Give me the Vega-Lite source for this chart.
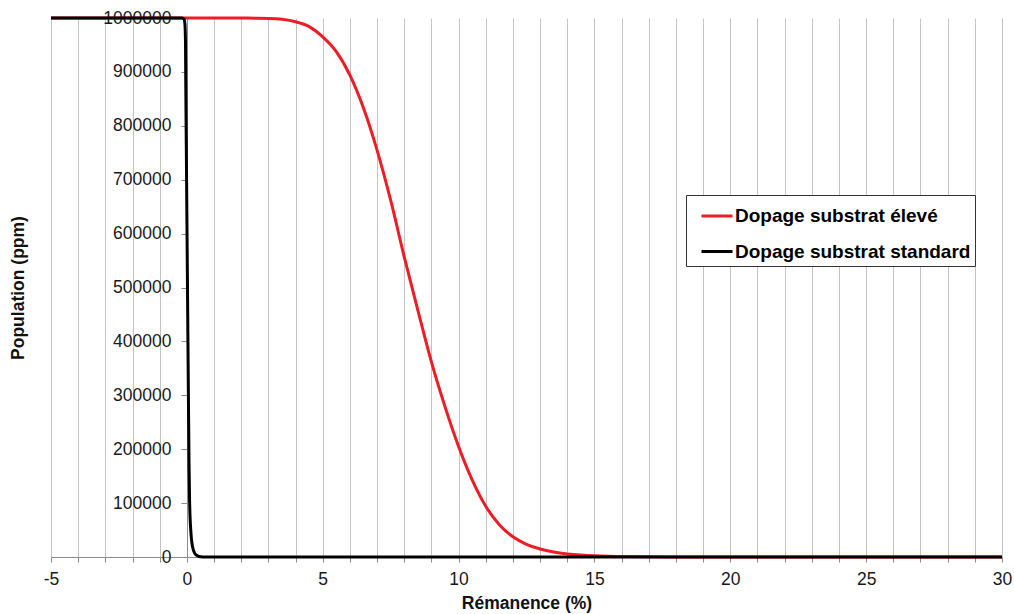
{
  "$schema": "https://vega.github.io/schema/vega-lite/v6.json",
  "autosize": {"type": "none"},
  "padding": {"left": 51, "top": 18, "right": 12, "bottom": 57},
  "width": 951,
  "height": 539,
  "background": "white",
  "config": {
    "view": {"stroke": null},
    "font": "Liberation Sans",
    "axis": {"labelFont": "Liberation Sans", "titleFont": "Liberation Sans", "labelColor": "#1a1a1a", "titleColor": "#111111"}
  },
  "data": {
    "values": [
      {"x": -5, "y": 1000000, "serie": "Dopage substrat élevé"},
      {"x": 0, "y": 1000000, "serie": "Dopage substrat élevé"},
      {"x": 1, "y": 1000000, "serie": "Dopage substrat élevé"},
      {"x": 2, "y": 999900, "serie": "Dopage substrat élevé"},
      {"x": 2.5, "y": 999700, "serie": "Dopage substrat élevé"},
      {"x": 3, "y": 999300, "serie": "Dopage substrat élevé"},
      {"x": 3.5, "y": 997500, "serie": "Dopage substrat élevé"},
      {"x": 4, "y": 993000, "serie": "Dopage substrat élevé"},
      {"x": 4.5, "y": 984000, "serie": "Dopage substrat élevé"},
      {"x": 5, "y": 965000, "serie": "Dopage substrat élevé"},
      {"x": 5.5, "y": 937500, "serie": "Dopage substrat élevé"},
      {"x": 6, "y": 894000, "serie": "Dopage substrat élevé"},
      {"x": 6.5, "y": 833000, "serie": "Dopage substrat élevé"},
      {"x": 7, "y": 755000, "serie": "Dopage substrat élevé"},
      {"x": 7.5, "y": 662000, "serie": "Dopage substrat élevé"},
      {"x": 8, "y": 557000, "serie": "Dopage substrat élevé"},
      {"x": 8.5, "y": 458000, "serie": "Dopage substrat élevé"},
      {"x": 9, "y": 362000, "serie": "Dopage substrat élevé"},
      {"x": 9.5, "y": 279000, "serie": "Dopage substrat élevé"},
      {"x": 10, "y": 205000, "serie": "Dopage substrat élevé"},
      {"x": 10.5, "y": 143000, "serie": "Dopage substrat élevé"},
      {"x": 11, "y": 94000, "serie": "Dopage substrat élevé"},
      {"x": 11.5, "y": 60000, "serie": "Dopage substrat élevé"},
      {"x": 12, "y": 37500, "serie": "Dopage substrat élevé"},
      {"x": 12.5, "y": 23500, "serie": "Dopage substrat élevé"},
      {"x": 13, "y": 14800, "serie": "Dopage substrat élevé"},
      {"x": 13.5, "y": 9200, "serie": "Dopage substrat élevé"},
      {"x": 14, "y": 5700, "serie": "Dopage substrat élevé"},
      {"x": 14.5, "y": 3500, "serie": "Dopage substrat élevé"},
      {"x": 15, "y": 2100, "serie": "Dopage substrat élevé"},
      {"x": 15.5, "y": 1250, "serie": "Dopage substrat élevé"},
      {"x": 16, "y": 750, "serie": "Dopage substrat élevé"},
      {"x": 17, "y": 250, "serie": "Dopage substrat élevé"},
      {"x": 18, "y": 80, "serie": "Dopage substrat élevé"},
      {"x": 19, "y": 0, "serie": "Dopage substrat élevé"},
      {"x": 30, "y": 0, "serie": "Dopage substrat élevé"},
      {"x": -5, "y": 1000000, "serie": "Dopage substrat standard"},
      {"x": -0.2, "y": 1000000, "serie": "Dopage substrat standard"},
      {"x": -0.1, "y": 998000, "serie": "Dopage substrat standard"},
      {"x": -0.07, "y": 988000, "serie": "Dopage substrat standard"},
      {"x": -0.05, "y": 955000, "serie": "Dopage substrat standard"},
      {"x": -0.04, "y": 880000, "serie": "Dopage substrat standard"},
      {"x": -0.02, "y": 760000, "serie": "Dopage substrat standard"},
      {"x": 0, "y": 640000, "serie": "Dopage substrat standard"},
      {"x": 0.02, "y": 520000, "serie": "Dopage substrat standard"},
      {"x": 0.04, "y": 400000, "serie": "Dopage substrat standard"},
      {"x": 0.06, "y": 280000, "serie": "Dopage substrat standard"},
      {"x": 0.08, "y": 175000, "serie": "Dopage substrat standard"},
      {"x": 0.1, "y": 105000, "serie": "Dopage substrat standard"},
      {"x": 0.15, "y": 45000, "serie": "Dopage substrat standard"},
      {"x": 0.21, "y": 19000, "serie": "Dopage substrat standard"},
      {"x": 0.3, "y": 6000, "serie": "Dopage substrat standard"},
      {"x": 0.4, "y": 2000, "serie": "Dopage substrat standard"},
      {"x": 0.5, "y": 500, "serie": "Dopage substrat standard"},
      {"x": 0.7, "y": 0, "serie": "Dopage substrat standard"},
      {"x": 30, "y": 0, "serie": "Dopage substrat standard"}
    ]
  },
  "encoding": {
    "x": {
      "field": "x", "type": "quantitative",
      "scale": {"domain": [-5, 30], "nice": false, "zero": false},
      "axis": {
        "title": "Rémanence (%)",
        "titleFontSize": 17.5, "titleFontWeight": "bold", "titlePadding": 7,
        "values": [-5,-4,-3,-2,-1,0,1,2,3,4,5,6,7,8,9,10,11,12,13,14,15,16,17,18,19,20,21,22,23,24,25,26,27,28,29,30],
        "labelExpr": "datum.value % 5 === 0 ? '' + datum.value : ''",
        "labelFontSize": 17.5, "labelPadding": 8, "labelOverlap": false, "labelFlush": false,
        "grid": true, "gridColor": "#c4c4c4", "gridWidth": 1,
        "domainColor": "#8c8c8c", "domainWidth": 1,
        "tickColor": "#8c8c8c", "tickSize": 5,
        "encode": {"ticks": {"update": {"opacity": {"signal": "datum.value % 5 === 0 ? 1 : 0"}}}}
      }
    },
    "y": {
      "field": "y", "type": "quantitative",
      "scale": {"domain": [0, 1000000], "nice": false},
      "axis": {
        "title": "Population (ppm)",
        "titleFontSize": 17.5, "titleFontWeight": "bold",
        "titleX": -169, "titleY": 269.5, "titleAngle": -90, "titleAlign": "center", "titleBaseline": "middle",
        "offset": -136,
        "values": [0,100000,200000,300000,400000,500000,600000,700000,800000,900000,1000000],
        "format": "d",
        "labelFontSize": 17.5, "labelPadding": 10, "labelOverlap": false,
        "grid": false,
        "domainColor": "#8c8c8c", "tickColor": "#8c8c8c", "tickSize": 6
      }
    },
    "color": {
      "field": "serie", "type": "nominal",
      "scale": {"domain": ["Dopage substrat élevé", "Dopage substrat standard"], "range": ["#ee1c25", "#000000"]},
      "legend": {
        "title": null, "orient": "none", "legendX": 635, "legendY": 177,
        "fillColor": "white", "strokeColor": "#333333", "padding": 4,
        "symbolType": "stroke", "symbolSize": 961, "symbolStrokeWidth": 3, "symbolOffset": 10,
        "labelFont": "Liberation Sans", "labelFontSize": 19, "labelFontWeight": "bold", "labelColor": "#000000",
        "labelOffset": 1, "rowPadding": 8.5, "labelLimit": 500
      }
    }
  },
  "layer": [
    {
      "transform": [{"filter": "datum.serie === 'Dopage substrat élevé'"}],
      "mark": {"type": "line", "strokeWidth": 3, "interpolate": "monotone"}
    },
    {
      "transform": [{"filter": "datum.serie === 'Dopage substrat standard'"}],
      "mark": {"type": "line", "strokeWidth": 3, "interpolate": "monotone"}
    }
  ]
}
